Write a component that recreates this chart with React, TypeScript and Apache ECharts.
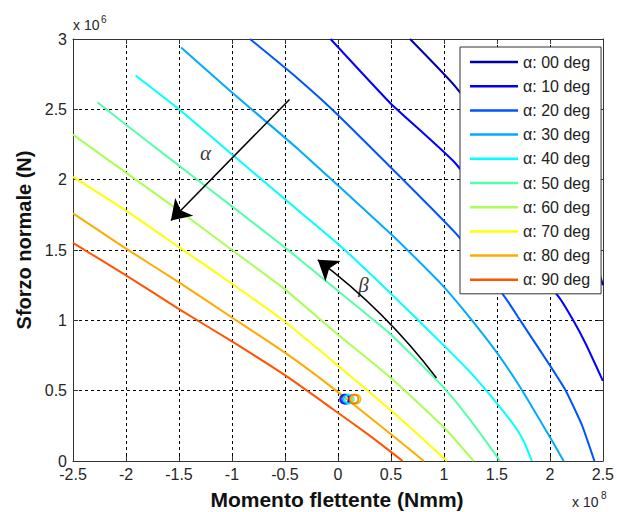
import React, { useEffect, useRef } from "react";
import * as echarts from "echarts";

// Curve data: x in 1e8 Nmm, y in 1e6 N
const seriesNames = [
  "α: 00 deg", "α: 10 deg", "α: 20 deg", "α: 30 deg", "α: 40 deg",
  "α: 50 deg", "α: 60 deg", "α: 70 deg", "α: 80 deg", "α: 90 deg",
];

const curve00 = [[0.68, 3.0], [1.11, 2.66], [2.45, 1.36], [2.5, 1.25]];
const curve10 = [[-0.07, 3.0], [0.5, 2.54], [1.11, 2.115], [2.09, 1.16], [2.22, 1.0], [2.34, 0.83], [2.5, 0.57]];
const curve20 = [[-0.83, 3.0], [-0.38, 2.72], [0, 2.46], [1.11, 1.62], [1.58, 1.16], [1.72, 1.0], [2.0, 0.68], [2.15, 0.5], [2.3, 0.26], [2.42, 0]];
const curve30 = [[-1.48, 2.94], [-1.0, 2.62], [-0.38, 2.22], [0.52, 1.6], [0.96, 1.27], [1.2, 1.06], [1.5, 0.77], [1.74, 0.5], [2.0, 0.17], [2.13, 0]];
const curve40 = [[-1.91, 2.74], [-1.5, 2.5], [-1.0, 2.18], [-0.5, 1.86], [0.02, 1.53], [0.5, 1.19], [1.0, 0.82], [1.25, 0.63], [1.5, 0.41], [1.675, 0.24], [1.76, 0.13], [1.83, 0]];
const curve50 = [[-2.27, 2.55], [-2.0, 2.39], [-1.5, 2.1], [-1.0, 1.81], [-0.47, 1.5], [-0.05, 1.24], [0.5, 0.9], [1.0, 0.52], [1.25, 0.29], [1.53, 0]];
const curve60 = [[-2.5, 2.32], [-2.0, 2.05], [-1.5, 1.78], [-1.0, 1.5], [-0.5, 1.22], [-0.05, 0.93], [0.5, 0.59], [1.0, 0.24], [1.28, 0]];
const curve70 = [[-2.5, 2.02], [-2.0, 1.78], [-1.5, 1.52], [-1.0, 1.26], [-0.5, 0.99], [-0.05, 0.71], [0.5, 0.36], [1.0, 0.02], [1.03, 0]];
const curve80 = [[-2.5, 1.76], [-2.0, 1.51], [-1.5, 1.27], [-1.0, 1.02], [-0.5, 0.77], [-0.05, 0.52], [0.5, 0.19], [0.81, 0]];
const curve90 = [[-2.5, 1.55], [-2.0, 1.32], [-1.5, 1.08], [-1.0, 0.85], [-0.5, 0.61], [-0.05, 0.37], [0.3, 0.18], [0.61, 0]];

const curves = [curve00, curve10, curve20, curve30, curve40, curve50, curve60, curve70, curve80, curve90];

const jetColors = [
  "#0000aa", "#0000ff", "#0055ff", "#00aaff", "#00ffff",
  "#55ffaa", "#aaff55", "#ffff00", "#ffaa00", "#ff5500",
];

// Small circle markers (one per alpha)
const markerX = [0.06, 0.07, 0.08, 0.095, 0.11, 0.17, 0.175, 0.16, 0.17, 0.15];
const markerY = [0.44, 0.44, 0.44, 0.44, 0.44, 0.44, 0.44, 0.44, 0.44, 0.44];

// Annotation arrows (data coords)
const alphaArrow = [[-0.457, 2.57], [-1.576, 1.71]];
const betaArrow = [[0.93, 0.59], [-0.19, 1.43]];
const alphaLabelPos = [-1.25, 2.19];
const betaLabelPos = [0.24, 1.25];

const xMin = -2.5, xMax = 2.5, xStep = 0.5;
const yMin = 0, yMax = 3, yStep = 0.5;

const SANS = '"Liberation Sans", Arial, sans-serif';
const SERIF = '"Liberation Serif", "DejaVu Serif", serif';

export default function App() {
  const ref = useRef<HTMLDivElement>(null);

  useEffect(() => {
    if (!ref.current) return;
    const chart = echarts.init(ref.current, null, { renderer: "svg" });

    const axisCommon = {
      axisLine: { show: true, onZero: false, lineStyle: { color: "#333", width: 1 } },
      axisTick: { show: true, inside: true, length: 5, lineStyle: { color: "#333" } },
    };

    const lineSeries = curves.map((c, i) => ({
      type: "line",
      name: seriesNames[i],
      data: c,
      showSymbol: false,
      symbol: "none",
      smooth: 0.15,
      lineStyle: { color: jetColors[i], width: 2, join: "round" },
      itemStyle: { color: jetColors[i] },
      z: 3,
    }));

    const option = {
      animation: false,
      backgroundColor: "#fff",
      grid: { left: 73, top: 39, right: 8, bottom: 51, containLabel: false },
      xAxis: [
        {
          type: "value", min: xMin, max: xMax, interval: xStep,
          ...axisCommon,
          axisLabel: { fontFamily: SANS, fontSize: 16, color: "#262626", margin: 5 },
          splitLine: { show: true, lineStyle: { color: "#000", type: [3, 3], width: 1 } },
        },
        {
          type: "value", position: "top", min: xMin, max: xMax, interval: xStep,
          ...axisCommon,
          axisLabel: { show: false },
          splitLine: { show: false },
        },
      ],
      yAxis: [
        {
          type: "value", min: yMin, max: yMax, interval: yStep,
          ...axisCommon,
          axisLabel: { fontFamily: SANS, fontSize: 16, color: "#262626", margin: 6 },
          splitLine: { show: true, lineStyle: { color: "#000", type: [3, 3], width: 1 } },
        },
        {
          type: "value", position: "right", min: yMin, max: yMax, interval: yStep,
          ...axisCommon,
          axisLabel: { show: false },
          splitLine: { show: false },
        },
      ],
      legend: {
        data: seriesNames,
        orient: "vertical",
        left: 460,
        top: 47,
        padding: [7, 11, 6, 10],
        itemGap: 8.2,
        itemWidth: 48,
        itemHeight: 2.5,
        icon: "rect",
        selectedMode: false,
        backgroundColor: "#fff",
        borderColor: "#333",
        borderWidth: 1,
        borderRadius: 0,
        textStyle: { fontFamily: SANS, fontSize: 16, lineHeight: 16, color: "#222" },
      },
      series: [
        ...lineSeries,
        {
          type: "scatter",
          name: "markers",
          symbol: "circle",
          symbolSize: 9,
          z: 4,
          data: markerX.map((x, i) => ({
            value: [x, markerY[i]],
            itemStyle: { color: "rgba(0,0,0,0)", borderColor: jetColors[i], borderWidth: 1.5 },
          })),
        },
        {
          type: "lines",
          coordinateSystem: "cartesian2d",
          name: "arrows",
          symbol: ["none", "arrow"],
          symbolSize: [13, 19],
          z: 5,
          lineStyle: { color: "#000", width: 1.5, opacity: 1 },
          data: [
            { coords: alphaArrow, lineStyle: { curveness: 0 } },
            { coords: betaArrow, lineStyle: { curveness: -0.07 } },
          ],
        },
        {
          type: "scatter",
          name: "greek",
          symbolSize: 1,
          itemStyle: { color: "rgba(0,0,0,0)" },
          z: 6,
          label: {
            show: true,
            position: "inside",
            formatter: (p: any) => p.name,
            fontFamily: SERIF,
            fontStyle: "italic",
            fontSize: 21,
            color: "#000",
          },
          data: [
            { name: "α", value: alphaLabelPos },
            { name: "β", value: betaLabelPos },
          ],
        },
      ],
      graphic: [
        {
          type: "text", x: 24, y: 240, rotation: Math.PI / 2,
          style: { text: "Sforzo normale (N)", font: `bold 20px ${SANS}`, fill: "#111", align: "center", verticalAlign: "middle" },
        },
        {
          type: "text", x: 337, y: 499,
          style: { text: "Momento flettente (Nmm)", font: `bold 21px ${SANS}`, fill: "#111", align: "center", verticalAlign: "middle" },
        },
        {
          type: "text", x: 73, y: 18,
          style: { text: "x 10", font: `14px ${SANS}`, fill: "#262626", align: "left", verticalAlign: "top" },
        },
        {
          type: "text", x: 101, y: 14,
          style: { text: "6", font: `10px ${SANS}`, fill: "#262626", align: "left", verticalAlign: "top" },
        },
        {
          type: "text", x: 572, y: 495,
          style: { text: "x 10", font: `14px ${SANS}`, fill: "#262626", align: "left", verticalAlign: "top" },
        },
        {
          type: "text", x: 601, y: 490.5,
          style: { text: "8", font: `10px ${SANS}`, fill: "#262626", align: "left", verticalAlign: "top" },
        },
      ],
    };

    chart.setOption(option as any);
    return () => chart.dispose();
  }, []);

  return (
    <div
      ref={ref}
      style={{ position: "fixed", left: 0, top: 0, width: 617, height: 512, background: "#fff" }}
    />
  );
}
